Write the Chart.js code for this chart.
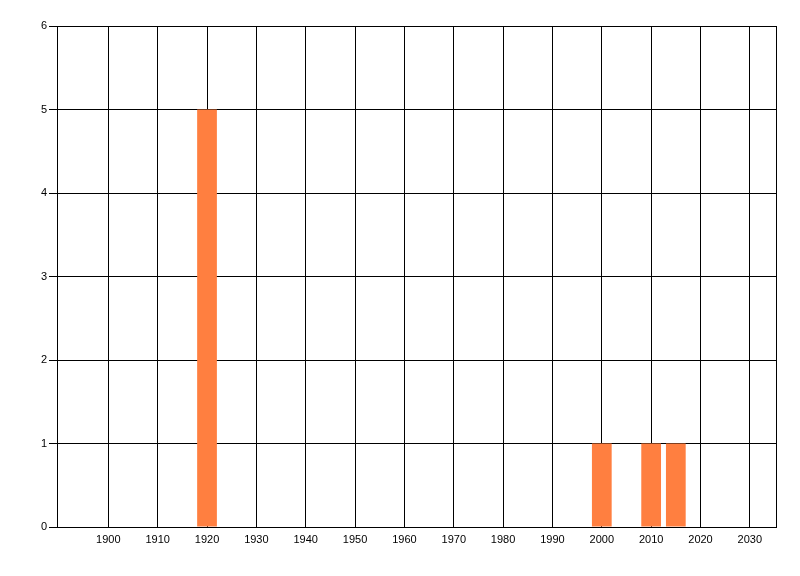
<!DOCTYPE html>
<html>
<head>
  <title>Bar chart</title>
  <script src="https://cdn.jsdelivr.net/npm/chart.js"></script>
  <style>
    body { margin: 0; background: #fff; }
    #wrap { width: 800px; height: 576px; }
  </style>
</head>
<body>
<div id="wrap"><canvas id="chart" width="800" height="576"></canvas></div>
<script>
const years = [1920, 2000, 2010, 2015];
const counts = [5, 1, 1, 1];
const xTicks = [1900, 1910, 1920, 1930, 1940, 1950, 1960, 1970, 1980, 1990, 2000, 2010, 2020, 2030];
const yTicks = [0, 1, 2, 3, 4, 5, 6];

// right edge of the plot area is framed like the other three sides
const frame = {
  id: 'frame',
  afterDraw(chart) {
    const a = chart.chartArea, c = chart.ctx;
    c.save();
    c.strokeStyle = '#000';
    c.lineWidth = 1;
    c.beginPath();
    c.moveTo(Math.round(a.right) + 0.5, a.top);
    c.lineTo(Math.round(a.right) + 0.5, a.bottom);
    c.stroke();
    c.restore();
  }
};

new Chart(document.getElementById('chart'), {
  type: 'bar',
  data: {
    datasets: [{
      data: years.map((y, i) => ({ x: y, y: counts[i] })),
      backgroundColor: '#ff7f40',
      borderWidth: 0,
      barPercentage: 1,
      categoryPercentage: 0.8
    }]
  },
  options: {
    responsive: false,
    animation: false,
    layout: { padding: { top: 26, right: 24, left: 0, bottom: 0 } },
    plugins: { legend: { display: false }, tooltip: { enabled: false } },
    scales: {
      x: {
        type: 'linear',
        offset: false,
        min: 1889.6,
        max: 2035.3,
        afterFit: s => { s.height = 49; },
        afterBuildTicks: s => { s.ticks = xTicks.map(v => ({ value: v })); },
        grid: { color: '#000', drawTicks: false, offset: false },
        border: { color: '#000' },
        ticks: {
          padding: 6, color: '#000',
          font: { family: 'Liberation Sans', size: 11 },
          maxRotation: 0, autoSkip: false, callback: v => String(v)
        }
      },
      y: {
        min: 0,
        max: 6,
        afterFit: s => { s.width = 57; },
        afterBuildTicks: s => { s.ticks = yTicks.map(v => ({ value: v })); },
        grid: { color: '#000', tickLength: 8 },
        border: { color: '#000' },
        ticks: {
          padding: 2, color: '#000',
          font: { family: 'Liberation Sans', size: 11 }
        }
      }
    }
  },
  plugins: [frame]
});
</script>
</body>
</html>
